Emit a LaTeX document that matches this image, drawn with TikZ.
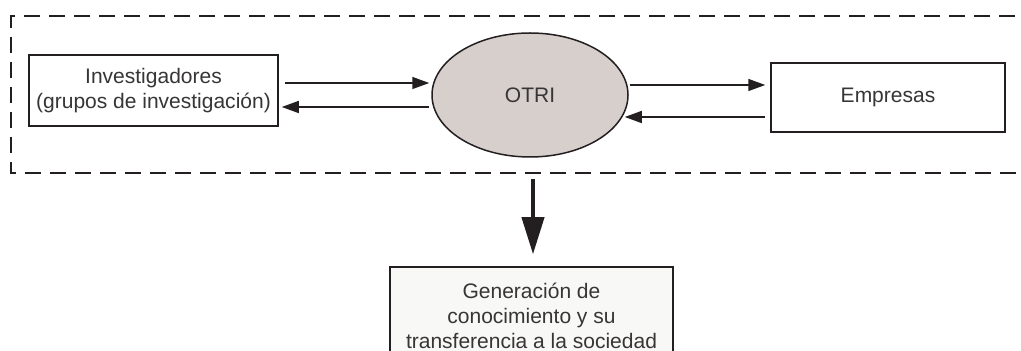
\documentclass[tikz,border=0pt]{standalone}
\usepackage{fontspec}
\setmainfont{Liberation Sans}
\usetikzlibrary{shapes.geometric,arrows.meta}

\definecolor{linea}{RGB}{35,31,32}
\definecolor{texto}{RGB}{55,53,53}
\definecolor{gris}{RGB}{214,207,204}
\definecolor{fondo}{RGB}{248,248,246}

\begin{document}
\begin{tikzpicture}
  [x=0.5pt,y=-0.5pt,
   every node/.style={text=texto,font=\fontsize{10.5}{12.5}\selectfont,align=center,inner sep=0pt},
   caja/.style={draw=linea,line width=0.75pt,fill=white},
   flecha/.style={draw=linea,line width=0.75pt,-{Triangle[length=8.5pt,width=6pt]}},
   marco/.style={draw=linea,line width=0.9pt,dash pattern=on 8pt off 4.5pt}]
  \useasboundingbox (0,0) rectangle (1021,351);

  % recuadro discontinuo
  \draw[marco] (1040,16) -- (11,16) -- (11,173) -- (1040,173);

  \node[caja,minimum width=124.5pt,minimum height=35.5pt] (inv) at (153.5,90.5)
    {Investigadores\\(grupos de investigación)};
  \node[ellipse,draw=linea,line width=0.75pt,fill=gris,minimum width=98pt,minimum height=62pt] (otri) at (530,95) {OTRI};
  \node[caja,minimum width=117pt,minimum height=34.5pt] (emp) at (888,97.5) {Empresas};
  \node[caja,fill=fondo,minimum width=141.5pt,minimum height=49pt] (gen) at (531.5,316)
    {Generación de\\conocimiento y su\\transferencia a la sociedad};

  \draw[flecha] ([shift={(3pt,3.75pt)}]inv.east) -- ([shift={(-1pt,6pt)}]otri.west);
  \draw[flecha] ([shift={(-1pt,-6pt)}]otri.west) -- ([shift={(1.5pt,-8.25pt)}]inv.east);

  \draw[flecha] ([shift={(0.5pt,5pt)}]otri.east) -- ([shift={(-2.5pt,6.25pt)}]emp.west);
  \draw[flecha] ([shift={(-2.5pt,-9.75pt)}]emp.west) -- ([shift={(-2pt,-11pt)}]otri.east);

  \draw[draw=linea,line width=2pt,-{Triangle[length=18.5pt,width=11pt]}]
    ([shift={(1.5pt,-10.5pt)}]otri.south) -- ([shift={(0.75pt,6pt)}]gen.north);
\end{tikzpicture}
\end{document}
